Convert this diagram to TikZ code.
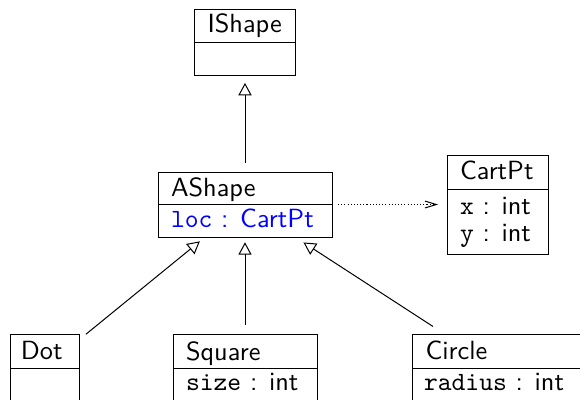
\documentclass[tikz,border=0pt]{standalone}
\usepackage{fontspec}
\usetikzlibrary{arrows.meta}
\begin{document}
\begin{tikzpicture}[x=0.38pt,y=-0.38pt,line width=0.38pt,
  box/.style={draw,line width=0.38pt,rectangle,inner sep=0pt,outer sep=0pt},
  lbl/.style={inner sep=0pt,outer sep=0pt,anchor=base west,font=\sffamily},
  inh/.style={-{Triangle[open,length=4.7pt,width=5pt]},line width=0.38pt},
  dep/.style={-{Straight Barb[length=4.3pt,width=2.6pt]},dash pattern=on 0.4pt off 0.8pt}]
\clip (0,0) rectangle (580,399);
% IShape
\node[box,minimum width={101*0.38pt},minimum height={66*0.38pt}] (ishape) at (245,42) {};
\draw (ishape.west) -- (ishape.east);
\node[lbl] (ishapet) at (207.5,32) {IShape};
% AShape
\node[box,minimum width={174*0.38pt},minimum height={65*0.38pt}] (ashape) at (245,204.5) {};
\draw (ashape.west) -- (ashape.east);
\node[lbl] (ashapet) at (171,196) {AShape};
\node[lbl,text=blue] (ashapea) at (171,227) {\texttt{loc} : CartPt};
% CartPt
\node[box,minimum width={101*0.38pt},minimum height={99*0.38pt}] (cartpt) at (497.5,204.5) {};
\draw ([yshift={-34*0.38pt}]cartpt.north west) -- ([yshift={-34*0.38pt}]cartpt.north east);
\node[lbl] (cartptt) at (460,179) {CartPt};
\node[lbl] (cartptx) at (460,214) {\texttt{x} : int};
\node[lbl] (cartpty) at (460,241) {\texttt{y} : int};
% Dot
\node[box,minimum width={69*0.38pt},minimum height={68*0.38pt}] (dot) at (44.5,368) {};
\draw (dot.west) -- (dot.east);
\node[lbl] (dott) at (21,359) {Dot};
% Square
\node[box,minimum width={144*0.38pt},minimum height={68*0.38pt}] (square) at (245,368) {};
\draw (square.west) -- (square.east);
\node[lbl] (squaret) at (186,360) {Square};
\node[lbl] (squarea) at (186,390) {\texttt{size} : int};
% Circle
\node[box,minimum width={170*0.38pt},minimum height={68*0.38pt}] (circ) at (497,368) {};
\draw (circ.west) -- (circ.east);
\node[lbl] (circt) at (425.5,359) {Circle};
\node[lbl] (circa) at (424,390) {\texttt{radius} : int};
% connectors
\draw[inh,shorten <=3.4pt,shorten >=3pt] (ashape) -- (ishape);
\draw[inh,shorten <=3.4pt,shorten >=2.6pt] (dot) -- (ashape);
\draw[inh,shorten <=3.4pt,shorten >=2pt] (square) -- (ashape);
\draw[inh,shorten <=5.3pt,shorten >=3.8pt] (circ) -- (ashape);
\draw[dep,shorten <=2.3pt,shorten >=3.4pt] (ashape) -- (cartpt);
\end{tikzpicture}
\end{document}
